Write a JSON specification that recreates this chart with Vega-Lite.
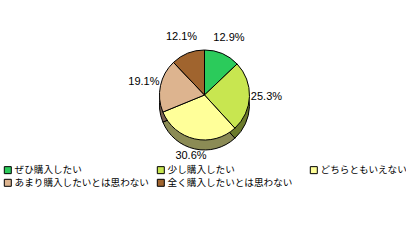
{
  "$schema": "https://vega.github.io/schema/vega-lite/v6.json",
  "width": 403,
  "height": 130,
  "padding": {"top": 30, "left": 3, "right": 0, "bottom": 0},
  "autosize": {"type": "pad"},
  "background": "white",
  "data": {
    "values": [
      {"answer": "ぜひ購入したい", "share": 0.129, "no": 1},
      {"answer": "少し購入したい", "share": 0.253, "no": 2},
      {"answer": "どちらともいえない", "share": 0.306, "no": 3},
      {"answer": "あまり購入したいとは思わない", "share": 0.191, "no": 4},
      {"answer": "全く購入したいとは思わない", "share": 0.121, "no": 5}
    ]
  },
  "encoding": {
    "theta": {"field": "share", "type": "quantitative", "stack": true},
    "order": {"field": "no", "type": "quantitative"}
  },
  "layer": [
    {
      "mark": {"type": "arc", "outerRadius": 45, "yOffset": 10, "stroke": "black", "strokeWidth": 1},
      "encoding": {
        "color": {
          "field": "answer",
          "type": "nominal",
          "scale": {
            "domain": ["ぜひ購入したい", "少し購入したい", "どちらともいえない", "あまり購入したいとは思わない", "全く購入したいとは思わない"],
            "range": ["#17703a", "#6b7a2a", "#8b8b55", "#7a6050", "#5a3818"]
          },
          "legend": null
        }
      }
    },
    {
      "mark": {"type": "arc", "outerRadius": 45, "stroke": "black", "strokeWidth": 1},
      "encoding": {
        "color": {
          "field": "answer",
          "type": "nominal",
          "scale": {
            "domain": ["ぜひ購入したい", "少し購入したい", "どちらともいえない", "あまり購入したいとは思わない", "全く購入したいとは思わない"],
            "range": ["#2bcb5b", "#c8e650", "#ffff99", "#ddb48f", "#a0642e"]
          },
          "legend": {
            "orient": "bottom",
            "title": null,
            "columns": 3,
            "gridAlign": "all",
            "columnPadding": 6,
            "rowPadding": 1,
            "offset": 5,
            "padding": 0,
            "symbolType": "square",
            "symbolSize": 49,
            "symbolStrokeColor": "black",
            "symbolStrokeWidth": 1,
            "symbolOffset": 0,
            "labelFont": "Noto Sans CJK JP",
            "labelFontSize": 9.6,
            "labelColor": "black",
            "labelLimit": 0,
            "labelOffset": 2
          }
        }
      }
    },
    {
      "mark": {"type": "text", "radius": 62, "font": "Liberation Sans", "fontSize": 11, "color": "black"},
      "encoding": {
        "text": {"field": "share", "type": "quantitative", "format": ".1%"}
      }
    }
  ],
  "resolve": {"scale": {"color": "independent"}},
  "config": {"view": {"stroke": null}}
}
